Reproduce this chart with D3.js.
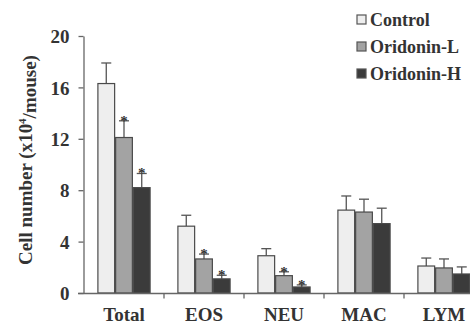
<!DOCTYPE html>
<html><head><meta charset="utf-8">
<script src="https://cdn.jsdelivr.net/npm/d3@7"></script>
</head>
<body style="margin:0">
<svg id="chart" width="470" height="323"></svg>
<script>
const categories = ["Total","EOS","NEU","MAC","LYM"];
const seriesNames = ["Control","Oridonin-L","Oridonin-H"];
const control   = [16.3, 5.2, 2.9, 6.45, 2.1];
const oridoninL = [12.1, 2.65, 1.35, 6.3, 1.95];
const oridoninH = [8.2, 1.1, 0.47, 5.4, 1.48];
const controlErr   = [1.6, 0.85, 0.55, 1.1, 0.62];
const oridoninLErr = [1.3, 0.38, 0.3, 1.0, 0.7];
const oridoninHErr = [1.1, 0.28, 0.16, 1.2, 0.55];
const controlSig   = [false,false,false,false,false];
const oridoninLSig = [true,true,true,false,false];
const oridoninHSig = [true,true,true,false,false];
const yTicks = [0,4,8,12,16,20];
const colors = ["#eeeeee","#a3a3a3","#3b3b3b"];

const FONT = "Liberation Serif, serif";
const values = [control, oridoninL, oridoninH];
const errs = [controlErr, oridoninLErr, oridoninHErr];
const sigs = [controlSig, oridoninLSig, oridoninHSig];

const svg = d3.select("#chart");
const x0 = d3.scaleBand().domain(categories).range([84, 484]).paddingInner(0.335).paddingOuter(0.1675);
const x1 = d3.scaleBand().domain(seriesNames).range([0, x0.bandwidth()]).padding(0);
const y = d3.scaleLinear().domain([0,20]).range([293, 36]);

function styleText(sel, size){
  return sel.attr("font-family",FONT).attr("font-weight","bold").attr("font-size",size).attr("fill","#333");
}

const data = [];
categories.forEach((c,i)=>seriesNames.forEach((s,j)=>data.push({c,s,j,v:values[j][i],e:errs[j][i],sig:sigs[j][i]})));

const g = svg.append("g");
g.selectAll(".err").data(data).enter().append("g").each(function(d){
  const cx = x0(d.c)+x1(d.s)+x1.bandwidth()/2;
  const sel = d3.select(this);
  sel.append("line").attr("x1",cx).attr("x2",cx).attr("y1",y(d.v)).attr("y2",y(d.v+d.e)).attr("stroke","#555").attr("stroke-width",1.3);
  sel.append("line").attr("x1",cx-5).attr("x2",cx+5).attr("y1",y(d.v+d.e)).attr("y2",y(d.v+d.e)).attr("stroke","#555").attr("stroke-width",1.3);
  if(d.sig){
    styleText(sel.append("text").attr("x",cx).attr("y",y(d.v+d.e)+5).attr("text-anchor","middle"),"15px").text("*");
  }
});
g.selectAll("rect.bar").data(data).enter().append("rect")
  .attr("x",d=>x0(d.c)+x1(d.s)+0.5)
  .attr("y",d=>y(d.v))
  .attr("width",d=>Math.max(0,Math.min(x1.bandwidth()-1, 469.5-(x0(d.c)+x1(d.s)+0.5))))
  .attr("height",d=>y(0)-y(d.v))
  .attr("fill",d=>colors[d.j])
  .attr("stroke","#4a4a4a").attr("stroke-width",1.2);

// y axis
const ya = svg.append("g").attr("transform","translate(83.5,0)")
  .call(d3.axisLeft(y).tickValues(yTicks).tickSize(5).tickPadding(9).tickSizeOuter(0));
ya.attr("font-family",FONT);
ya.select(".domain").attr("stroke","#666").attr("stroke-width",1.3);
ya.selectAll(".tick line").attr("stroke","#666").attr("stroke-width",1.3);
styleText(ya.selectAll(".tick text"),"19px").attr("dy","0.35em");

// x axis
const xa = svg.append("g").attr("transform","translate(0,293.5)");
xa.append("line").attr("x1",78).attr("x2",470).attr("y1",0).attr("y2",0).attr("stroke","#666").attr("stroke-width",1.3);
xa.selectAll(".xt").data(categories.slice(1)).enter().append("line")
  .attr("x1",d=>x0(d)-x0.step()*x0.paddingInner()/2).attr("x2",d=>x0(d)-x0.step()*x0.paddingInner()/2)
  .attr("y1",0).attr("y2",5).attr("stroke","#666").attr("stroke-width",1.3);
styleText(xa.selectAll(".xl").data(categories).enter().append("text")
  .attr("x",d=>x0(d)+x0.bandwidth()/2).attr("y",27).attr("text-anchor","middle"),"19px").text(d=>d);

// y title
const yt = styleText(svg.append("text").attr("transform","translate(32,160) rotate(-90)").attr("text-anchor","middle"),"19px");
yt.append("tspan").text("Cell number (x10");
yt.append("tspan").attr("dy","-0.55em").attr("font-size","11px").text("4");
yt.append("tspan").attr("dy","0.55em").text("/mouse)");

// legend
const lg = svg.append("g");
seriesNames.forEach((s,j)=>{
  const ly = 20 + j*27;
  lg.append("rect").attr("x",357).attr("y",ly-5).attr("width",9).attr("height",9).attr("fill",colors[j]).attr("stroke","#555").attr("stroke-width",1.2);
  styleText(lg.append("text").attr("x",370).attr("y",ly+6),"18px").text(s);
});
</script>
</body></html>
